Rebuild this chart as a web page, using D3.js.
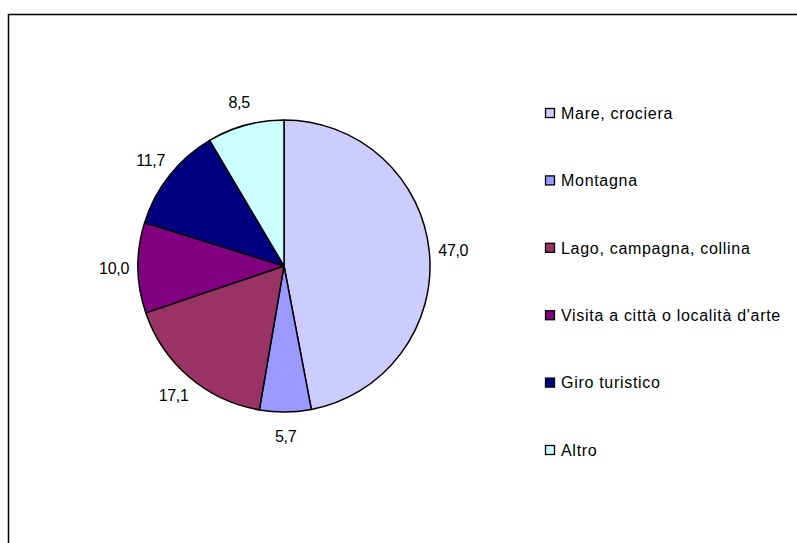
<!DOCTYPE html>
<html>
<head>
<meta charset="utf-8">
<script src="https://cdn.jsdelivr.net/npm/d3@7"></script>
<style>
  body { margin: 0; background: #fff; }
  text { font-family: "Liberation Sans", Arial, sans-serif; fill: #000; }
</style>
</head>
<body>
<svg width="797" height="543"></svg>
<script>
// Data
const categories = ["Mare, crociera", "Montagna", "Lago, campagna, collina",
  "Visita a città o località d'arte", "Giro turistico", "Altro"];
const values = [47.0, 5.7, 17.1, 10.0, 11.7, 8.5];
const colors = ["#ccccff", "#9999ff", "#993366", "#800080", "#000080", "#ccffff"];

const svg = d3.select("svg");

// Chart frame (open at right and bottom, as cropped)
svg.append("path")
    .attr("d", "M8.5,543 L8.5,14.5 L797,14.5")
    .attr("fill", "none")
    .attr("stroke", "#000")
    .attr("stroke-width", 1.5);

const cx = 284, cy = 266, r = 146;

const pie = d3.pie().sort(null).value(d => d);
const arcs = pie(values);
const arc = d3.arc().innerRadius(0).outerRadius(r);
const labelArc = d3.arc().innerRadius(170).outerRadius(170);

const g = svg.append("g").attr("transform", `translate(${cx},${cy})`);

g.selectAll("path.slice")
  .data(arcs)
  .enter().append("path")
    .attr("class", "slice")
    .attr("d", arc)
    .attr("fill", (d, i) => colors[i])
    .attr("stroke", "#000")
    .attr("stroke-width", 1.5)
    .attr("stroke-linejoin", "round");

const fmt = v => v.toFixed(1).replace(".", ",");

g.selectAll("text.lbl")
  .data(arcs)
  .enter().append("text")
    .attr("class", "lbl")
    .attr("transform", d => `translate(${labelArc.centroid(d)})`)
    .attr("text-anchor", "middle")
    .attr("dy", "0.35em")
    .style("font-size", "16px")
    .style("letter-spacing", "-0.3px")
    .text(d => fmt(d.data));

// Legend
const legend = svg.append("g");
const rowY = d3.scaleLinear().domain([0, categories.length - 1]).range([113, 450]);

const row = legend.selectAll("g")
  .data(categories)
  .enter().append("g")
    .attr("transform", (d, i) => `translate(545,${rowY(i)})`);

row.append("rect")
    .attr("x", 0.5).attr("y", -4.5)
    .attr("width", 9).attr("height", 9)
    .attr("fill", (d, i) => colors[i])
    .attr("stroke", "#000")
    .attr("stroke-width", 1.3);

row.append("text")
    .attr("x", 16)
    .attr("dy", "0.36em")
    .style("font-size", "16px")
    .style("letter-spacing", "0.7px")
    .text(d => d);
</script>
</body>
</html>
